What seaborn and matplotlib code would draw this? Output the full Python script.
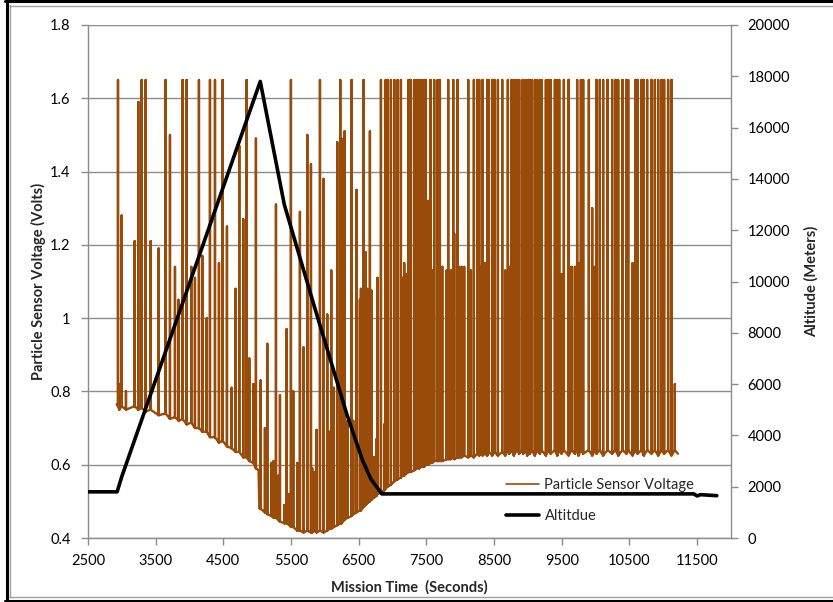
import numpy as np
import pandas as pd
import matplotlib
matplotlib.use("Agg")
import matplotlib.pyplot as plt
from matplotlib.lines import Line2D
import seaborn as sns

# ---------------- data ----------------
# spikes of the particle sensor: time (s), foot of spike (V), top of spike (V)
spike_time = [
    2943, 2963, 2997, 3061, 3189, 3243, 3293, 3352, 3426, 3544,
    3647, 3711, 3785, 3839, 3898, 3957, 4026, 4080, 4139, 4189,
    4253, 4302, 4376, 4435, 4489, 4553, 4622, 4681, 4735, 4794,
    4844, 4883, 4942, 4981,
    5050, 5114, 5149, 5213, 5242, 5277, 5311, 5336, 5400, 5434,
    5474, 5498, 5533, 5592, 5631, 5685, 5740, 5794, 5813, 5848,
    5877, 5927, 5981, 6035, 6064, 6094, 6133, 6183, 6227, 6247,
    6291, 6335, 6394, 6419, 6468, 6517, 6532, 6572, 6601, 6626,
    6665, 6690, 6724, 6763, 6778, 6828, 6877, 6897, 6926, 6975,
    7025, 7074, 7123, 7148, 7172, 7197, 7236, 7271, 7320, 7354,
    7394, 7428, 7468, 7492, 7527, 7561, 7586, 7615, 7665, 7699,
    7734, 7798, 7822, 7862, 7896, 7911, 7960, 7980, 8019, 8058,
    8118, 8157, 8201, 8251, 8280, 8310, 8329, 8364, 8398, 8423,
    8472, 8506, 8556, 8620, 8664, 8703, 8723, 8758, 8792, 8831,
    8871, 8920, 8930, 8964, 8989, 9004, 9028, 9058, 9102, 9137,
    9176, 9201, 9265, 9299, 9334, 9398, 9432, 9462, 9496, 9531,
    9600, 9644, 9693, 9727, 9747, 9782, 9816, 9900, 9949, 9988,
    10013, 10062, 10111, 10176, 10244, 10294, 10333, 10397, 10456, 10481,
    10545, 10589, 10619, 10678, 10712, 10761, 10825, 10875, 10924, 10973,
    11012, 11071, 11121, 11170,
]
spike_foot = [
    0.760, 0.750, 0.760, 0.750, 0.760, 0.750, 0.755, 0.745, 0.750, 0.735,
    0.740, 0.725, 0.730, 0.720, 0.725, 0.710, 0.715, 0.700, 0.700, 0.690,
    0.690, 0.675, 0.675, 0.660, 0.665, 0.650, 0.645, 0.635, 0.635, 0.620,
    0.620, 0.610, 0.605, 0.590,
    0.480, 0.470, 0.465, 0.460, 0.455, 0.455, 0.450, 0.445, 0.440, 0.440,
    0.435, 0.430, 0.430, 0.420, 0.420, 0.415, 0.420, 0.415, 0.415, 0.420,
    0.415, 0.420, 0.415, 0.420, 0.425, 0.425, 0.430, 0.435, 0.440, 0.440,
    0.450, 0.455, 0.460, 0.465, 0.470, 0.475, 0.475, 0.485, 0.490, 0.495,
    0.500, 0.505, 0.510, 0.515, 0.520, 0.525, 0.530, 0.535, 0.540, 0.545,
    0.555, 0.560, 0.565, 0.570, 0.570, 0.575, 0.580, 0.580, 0.585, 0.590,
    0.590, 0.595, 0.595, 0.600, 0.600, 0.605, 0.605, 0.610, 0.610, 0.610,
    0.610, 0.615, 0.615, 0.615, 0.620, 0.615, 0.620, 0.620, 0.620, 0.625,
    0.620, 0.625, 0.620, 0.630, 0.625, 0.630, 0.625, 0.630, 0.625, 0.635,
    0.625, 0.635, 0.625, 0.635, 0.625, 0.640, 0.630, 0.640, 0.625, 0.640,
    0.630, 0.640, 0.630, 0.640, 0.625, 0.640, 0.630, 0.640, 0.625, 0.640,
    0.630, 0.640, 0.625, 0.640, 0.630, 0.640, 0.625, 0.640, 0.630, 0.640,
    0.625, 0.640, 0.630, 0.640, 0.625, 0.640, 0.630, 0.640, 0.625, 0.640,
    0.630, 0.640, 0.625, 0.640, 0.630, 0.640, 0.625, 0.640, 0.630, 0.640,
    0.625, 0.640, 0.630, 0.640, 0.625, 0.640, 0.630, 0.640, 0.625, 0.640,
    0.630, 0.640, 0.625, 0.640,
]
spike_peak = [
    1.65, 0.82, 1.28, 0.80, 1.21, 1.59, 1.65, 1.65, 1.21, 1.19,
    1.65, 1.50, 1.14, 1.05, 1.65, 1.65, 1.14, 1.11, 1.65, 1.17,
    1.00, 1.65, 1.65, 1.15, 1.65, 1.25, 0.81, 1.08, 1.47, 1.27,
    1.65, 0.89, 0.82, 1.49,
    0.83, 0.70, 0.93, 0.605, 0.61, 1.31, 0.57, 0.79, 0.49, 0.97,
    0.52, 1.65, 0.80, 0.605, 1.29, 0.92, 1.50, 1.42, 0.59, 0.58,
    0.695, 1.65, 1.38, 1.01, 0.69, 1.13, 0.81, 1.48, 1.65, 1.49,
    1.51, 0.72, 1.65, 0.72, 1.35, 1.05, 1.08, 1.65, 1.18, 1.08,
    1.51, 1.075, 0.62, 0.67, 1.11, 1.65, 0.71, 1.65, 1.65, 1.65,
    1.65, 1.65, 1.65, 1.11, 1.15, 1.12, 1.65, 1.65, 1.65, 1.65,
    1.65, 1.65, 1.65, 1.65, 1.32, 1.65, 1.13, 1.65, 1.65, 1.65,
    1.14, 1.13, 1.65, 1.13, 1.65, 1.23, 1.65, 1.14, 1.14, 1.14,
    1.65, 1.13, 1.65, 1.65, 1.65, 1.14, 1.65, 1.15, 1.65, 1.65,
    1.65, 1.65, 1.65, 1.65, 1.13, 1.65, 1.14, 1.65, 1.65, 1.65,
    1.65, 1.65, 1.14, 1.65, 1.19, 1.65, 1.65, 1.65, 1.65, 1.65,
    1.65, 1.65, 1.65, 1.65, 1.65, 1.65, 1.65, 1.65, 1.12, 1.65,
    1.65, 1.14, 1.14, 1.65, 1.15, 1.65, 1.65, 1.65, 1.30, 1.14,
    1.65, 1.65, 1.65, 1.65, 1.65, 1.65, 1.65, 1.65, 1.65, 1.65,
    1.15, 1.65, 1.65, 1.65, 1.65, 1.65, 1.65, 1.65, 1.65, 1.65,
    1.65, 1.65, 1.65, 0.82,
]
# baseline points of the voltage trace that are not spike feet
base_time = [2925, 5020, 5032, 11215]
base_volt = [0.765, 0.585, 0.480, 0.630]

# altitude trace
alt_time = [2500, 2930, 3000, 5045, 5400, 5830, 6320, 6560, 6680, 6840,
            11450, 11500, 11550, 11790]
alt_m = [1800, 1800, 2400, 17800, 13000, 9150, 4860, 3000, 2300, 1720,
         1720, 1640, 1690, 1650]

x_ticks = [2500, 3500, 4500, 5500, 6500, 7500, 8500, 9500, 10500, 11500]
v_ticks = [0.4, 0.6, 0.8, 1.0, 1.2, 1.4, 1.6, 1.8]
v_tick_labels = ["0.4", "0.6", "0.8", "1", "1.2", "1.4", "1.6", "1.8"]
alt_ticks = [0, 2000, 4000, 6000, 8000, 10000, 12000, 14000, 16000, 18000, 20000]

# ---------------- build the voltage polyline ----------------
rows = []
for t, f, p in zip(spike_time, spike_foot, spike_peak):
    rows += [(t, f, 0), (t, p, 1), (t, f, 2)]
for t, v in zip(base_time, base_volt):
    rows.append((t, v, 0))
volt_df = pd.DataFrame(rows, columns=["t", "v", "k"]).sort_values(["t", "k"], kind="stable")
alt_df = pd.DataFrame({"t": alt_time, "alt": alt_m})

# ---------------- style ----------------
sns.set_theme(style="white")
plt.rcParams["font.family"] = ["Lato", "DejaVu Sans"]
FS = 10.5
BROWN = "#994C0A"
GRID = "#8c8c8c"

fig = plt.figure(figsize=(8.33, 6.02), dpi=100)
W, H = 833, 602
ax = fig.add_axes([88 / W, 1 - 538 / H, (731 - 88) / W, (538 - 25) / H])

sns.lineplot(data=volt_df, x="t", y="v", sort=False, estimator=None,
             color=BROWN, lw=1.7, ax=ax, label="Particle Sensor Voltage")
ax2 = ax.twinx()
sns.lineplot(data=alt_df, x="t", y="alt", sort=False, estimator=None,
             color="black", lw=2.6, ax=ax2, label="Altitdue")

ax.set_xlim(2500, 12000)
ax.set_ylim(0.4, 1.8)
ax2.set_ylim(0, 20000)
ax.set_xticks(x_ticks)
ax.set_xticklabels([str(v) for v in x_ticks])
ax.set_yticks(v_ticks)
ax.set_yticklabels(v_tick_labels)
ax2.set_yticks(alt_ticks)
ax2.set_yticklabels([str(v) for v in alt_ticks])

ax.yaxis.grid(True, color=GRID, lw=1.0)
ax.xaxis.grid(False)
ax.set_axisbelow(True)

for a in (ax, ax2):
    for s in a.spines.values():
        s.set_color(GRID)
        s.set_linewidth(1.0)
    a.spines["top"].set_visible(False)
ax2.spines["left"].set_visible(False)
ax2.spines["bottom"].set_visible(False)
ax.spines["right"].set_visible(False)

ax.tick_params(axis="x", direction="out", length=5, width=1, pad=6.5,
               color=GRID, labelcolor="black", labelsize=FS, bottom=True)
ax.tick_params(axis="y", direction="out", length=5, width=1, pad=7.5,
               color=GRID, labelcolor="black", labelsize=FS, left=True)
ax2.tick_params(axis="y", direction="out", length=5, width=1, pad=7, color=GRID,
                labelcolor="black", labelsize=FS, right=True)

ax.set_xlabel("Mission Time  (Seconds)", fontsize=FS, fontweight="bold", labelpad=9)
ax.set_ylabel("Particle Sensor Voltage (Volts)", fontsize=FS, fontweight="bold", labelpad=3)
ax2.set_ylabel("Altitude (Meters)", fontsize=FS, fontweight="bold", labelpad=10)

# legend
h1, l1 = ax.get_legend_handles_labels()
h2, l2 = ax2.get_legend_handles_labels()
if ax.get_legend() is not None:
    ax.get_legend().remove()
if ax2.get_legend() is not None:
    ax2.get_legend().remove()
leg = ax2.legend(h1 + h2, l1 + l2, frameon=False, fontsize=FS,
                 loc="upper left", bbox_to_anchor=((500 - 88) / (731 - 88), (538 - 472) / (538 - 25)),
                 handlelength=2.3, handletextpad=0.35, labelspacing=1.15, borderaxespad=0)
leg.get_lines()[0].set_linewidth(1.2)

# figure frame (black outer, grey inner)
def hline(y, x0, x1, color, lw):
    fig.add_artist(Line2D([x0 / W, x1 / W], [1 - y / H, 1 - y / H], transform=fig.transFigure,
                          color=color, lw=lw))

def vline(x, y0, y1, color, lw):
    fig.add_artist(Line2D([x / W, x / W], [1 - y0 / H, 1 - y1 / H], transform=fig.transFigure,
                          color=color, lw=lw))

hline(1.0, 5, W, "black", 2.2)
hline(5.5, 9, W, "#a0a0a0", 1.0)
hline(600.5, 5, W, "black", 2.2)
hline(597, 9, W, "#a0a0a0", 1.0)
vline(6.5, 1, 601, "black", 2.2)
vline(9.5, 5, 597, "#a0a0a0", 1.0)

fig.savefig("out.png", dpi=100)
